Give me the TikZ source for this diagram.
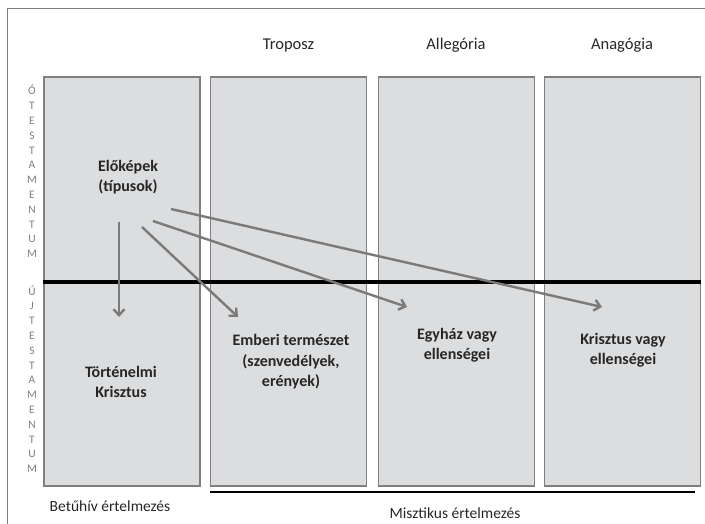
\documentclass[tikz,border=0pt]{standalone}
\usepackage{fontspec}
\setmainfont{Carlito}
\usepackage{xcolor}
\usepackage{tikz}
\usetikzlibrary{arrows.meta,positioning,calc}
\definecolor{boxGray}{HTML}{DCDDDF}
\definecolor{edgeGray}{HTML}{7F7F7F}
\definecolor{arrowGray}{HTML}{7A7A7A}
\definecolor{textDark}{HTML}{262626}
\tikzset{
  senseBox/.style={
    rectangle,
    draw=edgeGray,
    fill=boxGray,
    line width=1.2pt,
    minimum width=156pt,
    minimum height=409pt,
    inner sep=0pt
  },
  headLabel/.style={
    text=textDark,
    anchor=base,
    font=\fontsize{16.5}{19}\selectfont
  },
  footLabel/.style={
    text=textDark,
    anchor=base,
    font=\fontsize{15.5}{18}\selectfont
  },
  boldLabel/.style={
    text=textDark,
    font=\fontsize{16}{20.5}\selectfont\bfseries,
    align=center
  },
  testLetters/.style={
    text=edgeGray,
    font=\fontsize{11.5}{14.8}\selectfont,
    align=center,
    inner sep=0pt
  },
  typeArrow/.style={
    -{Straight Barb[length=6pt,width=11pt]},
    draw=arrowGray,
    line width=2.4pt
  },
  ageLine/.style={
    line width=3.8pt,
    black
  }
}

\begin{document}
\begin{tikzpicture}[x=1pt,y=-1pt]
        \useasboundingbox (0,0) rectangle (705,524);
        \draw[edgeGray, line width=0.8pt] (7,524) -- (7,8) -- (705,8);

        % four columns of sense
        \node[senseBox] (literal) at (122,281.5) {};
        \node[senseBox] (tropos) at (288.5,281.5) {};
        \node[senseBox] (allegory) at (456.5,281.5) {};
        \node[senseBox] (anagogy) at (622.5,281.5) {};

        \node[headLabel] (troposLbl) at (288.5,50) {Troposz};
        \node[headLabel] (allegoryLbl) at (456,50) {Allegória};
        \node[headLabel] (anagogyLbl) at (622,50) {Anagógia};

        \node[testLetters] (oldTest) at (32,171.5) {Ó\\T\\E\\S\\T\\A\\M\\E\\N\\T\\U\\M};
        \node[testLetters] (newTest) at (32,379) {Ú\\J\\T\\E\\S\\T\\A\\M\\E\\N\\T\\U\\M};

        \draw[ageLine] (literal.west |- 0,282) -- (anagogy.east |- 0,282);

        \node[boldLabel] (types) at (128,177) {Előképek\\(típusok)};
        \node[boldLabel] (history) at (121,382) {Történelmi\\Krisztus};
        \node[boldLabel] (nature) at (291,362) {Emberi természet\\(szenvedélyek,\\erények)};
        \node[boldLabel] (church) at (457,345) {Egyház vagy\\ellenségei};
        \node[boldLabel] (christ) at (623,350) {Krisztus vagy\\ellenségei};

        \coordinate (t1) at (119,222);
        \coordinate (t2) at (142,227);
        \coordinate (t3) at (153,221);
        \coordinate (t4) at (171,209);
        \coordinate (h1) at (119,317);
        \coordinate (h2) at (238,317);
        \coordinate (h3) at (407,307);
        \coordinate (h4) at (602,307);
        \draw[typeArrow] (t1) -- (h1);
        \draw[typeArrow] (t2) -- (h2);
        \draw[typeArrow] (t3) -- (h3);
        \draw[typeArrow] (t4) -- (h4);

        \draw[line width=2.2pt] (tropos.south west |- 0,492) -- (695,492);
        \node[footLabel] (literalLbl) at (110,511) {Betűhív értelmezés};
        \node[footLabel] (mysticLbl) at (455,518) {Misztikus értelmezés};

    \end{tikzpicture}
\end{document}
